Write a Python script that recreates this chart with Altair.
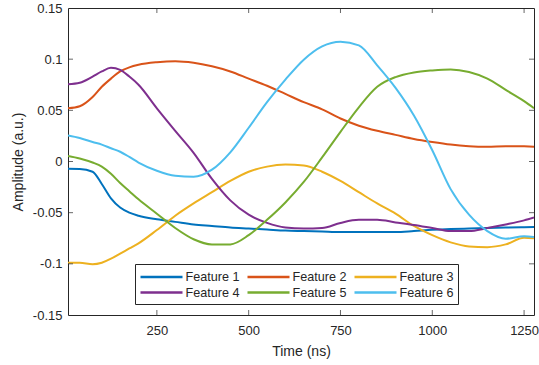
import altair as alt
import pandas as pd

time_ns = [8, 40, 75, 100, 125, 150, 175, 200, 250, 300, 350, 400, 450, 500, 550,
           600, 650, 700, 750, 800, 850, 900, 950, 1000, 1050, 1100, 1150, 1200, 1250, 1277]

feature1 = [-0.0072, -0.0073, -0.010, -0.022, -0.036, -0.045, -0.050, -0.053, -0.0565, -0.059,
            -0.0615, -0.063, -0.0645, -0.0655, -0.0665, -0.0675, -0.068, -0.0685, -0.069, -0.069,
            -0.069, -0.069, -0.068, -0.0668, -0.066, -0.0655, -0.065, -0.0645, -0.0642, -0.064]
feature2 = [0.052, 0.054, 0.063, 0.073, 0.081, 0.088, 0.092, 0.0945, 0.097, 0.098,
            0.0965, 0.093, 0.088, 0.081, 0.074, 0.066, 0.058, 0.051, 0.042, 0.035,
            0.030, 0.026, 0.022, 0.019, 0.0165, 0.015, 0.0145, 0.015, 0.0148, 0.0145]
feature3 = [-0.099, -0.099, -0.1005, -0.099, -0.095, -0.090, -0.085, -0.080, -0.067, -0.053,
            -0.041, -0.030, -0.019, -0.010, -0.005, -0.003, -0.004, -0.010, -0.019, -0.030,
            -0.041, -0.051, -0.063, -0.072, -0.079, -0.083, -0.0837, -0.081, -0.0745, -0.075]
feature4 = [0.0755, 0.077, 0.083, 0.088, 0.0915, 0.0895, 0.083, 0.075, 0.052, 0.030,
            0.0085, -0.017, -0.038, -0.052, -0.060, -0.0645, -0.0655, -0.065, -0.060, -0.057,
            -0.057, -0.0595, -0.062, -0.065, -0.068, -0.068, -0.065, -0.0615, -0.0575, -0.0547]
feature5 = [0.0055, 0.003, -0.001, -0.005, -0.012, -0.021, -0.029, -0.037, -0.051, -0.065,
            -0.076, -0.081, -0.081, -0.072, -0.057, -0.040, -0.020, 0.004, 0.029, 0.053,
            0.073, 0.0825, 0.087, 0.089, 0.090, 0.0875, 0.081, 0.070, 0.059, 0.052]
feature6 = [0.0255, 0.023, 0.019, 0.0165, 0.013, 0.0095, 0.0045, -0.001, -0.009, -0.014,
            -0.015, -0.008, 0.009, 0.033, 0.058, 0.080, 0.0995, 0.1125, 0.117, 0.1135,
            0.094, 0.072, 0.045, 0.011, -0.027, -0.052, -0.068, -0.0755, -0.073, -0.0738]

series_names = ["Feature 1", "Feature 2", "Feature 3", "Feature 4", "Feature 5", "Feature 6"]
series_colors = ["#0072BD", "#D95319", "#EDB120", "#7E2F8E", "#77AC30", "#4DBEEE"]
x_ticks = [250, 500, 750, 1000, 1250]
y_ticks = [-0.15, -0.1, -0.05, 0, 0.05, 0.1, 0.15]

rows = []
for name, vals in zip(series_names, [feature1, feature2, feature3, feature4, feature5, feature6]):
    for t, v in zip(time_ns, vals):
        rows.append({"t": t, "v": v, "s": name})
df = pd.DataFrame(rows)

W, H = 466, 307
FONT = "Liberation Sans"
TXT = "#262626"

xscale = alt.Scale(domain=[8, 1277], nice=False, zero=False)
yscale = alt.Scale(domain=[-0.15, 0.15], nice=False)

lines = alt.Chart(df).mark_line(strokeWidth=2, interpolate="monotone", clip=True).encode(
    x=alt.X("t:Q", scale=xscale, title="Time (ns)",
            axis=alt.Axis(values=x_ticks, ticks=False, tickSize=0, domain=False, grid=False,
                          labelExpr="'' + datum.value",
                          labelPadding=9, titlePadding=7, labelFontSize=13, titleFontSize=14,
                          labelFont=FONT, titleFont=FONT, labelColor=TXT, titleColor=TXT,
                          titleFontWeight="normal")),
    y=alt.Y("v:Q", scale=yscale, title="Amplitude (a.u.)",
            axis=alt.Axis(values=y_ticks, ticks=False, tickSize=0, domain=False, grid=False,
                          labelExpr="'' + datum.value", labelPadding=6, titlePadding=7,
                          labelFontSize=13, titleFontSize=14, labelFont=FONT, titleFont=FONT,
                          labelColor=TXT, titleColor=TXT, titleFontWeight="normal")),
    color=alt.Color("s:N", scale=alt.Scale(domain=series_names, range=series_colors),
                    legend=alt.Legend(title=None, orient="none", legendX=67, legendY=256,
                                      direction="horizontal",
                                      columns=3, symbolType="M-1,0H5", symbolSize=196,
                                      symbolStrokeWidth=2.5, labelFontSize=12.6, labelFont=FONT,
                                      labelColor=TXT, columnPadding=2, rowPadding=0,
                                      labelOffset=29.5, padding=4, strokeColor=TXT,
                                      fillColor="white")),
)

xt = pd.DataFrame({"t": x_ticks})
yt = pd.DataFrame({"v": y_ticks[1:-1]})

xtick_bottom = alt.Chart(xt).mark_tick(color=TXT, size=5, thickness=1).encode(
    x=alt.X("t:Q", scale=xscale), y=alt.value(H - 2.5))
xtick_top = alt.Chart(xt).mark_tick(color=TXT, size=5, thickness=1).encode(
    x=alt.X("t:Q", scale=xscale), y=alt.value(2.5))
ytick_left = alt.Chart(yt).mark_tick(color=TXT, size=5, thickness=1).encode(
    y=alt.Y("v:Q", scale=yscale), x=alt.value(2.5))
ytick_right = alt.Chart(yt).mark_tick(color=TXT, size=5, thickness=1).encode(
    y=alt.Y("v:Q", scale=yscale), x=alt.value(W - 2.5))

chart = alt.layer(lines, xtick_bottom, xtick_top, ytick_left, ytick_right).properties(
    width=W, height=H,
    padding={"left": 68, "top": 8, "right": 5, "bottom": 50},
    autosize=alt.AutoSizeParams(type="none"),
    background="white",
).configure_view(stroke=TXT, strokeWidth=1)

chart.save("out.html", embed_options={"renderer": "svg", "actions": False})
